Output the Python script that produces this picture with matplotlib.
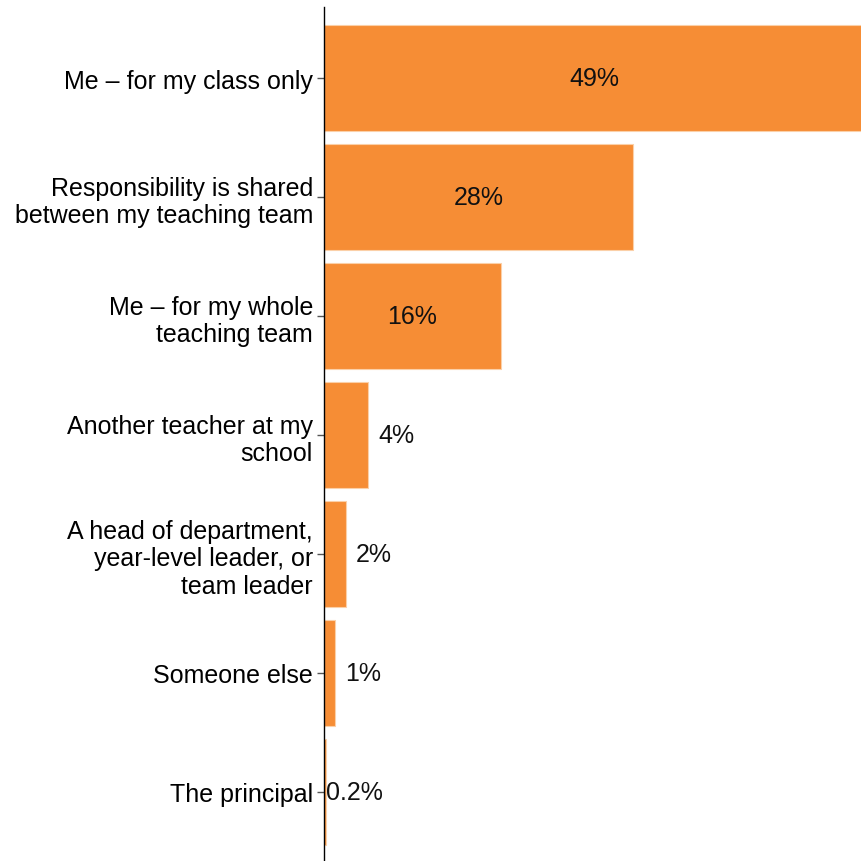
import matplotlib
matplotlib.use("Agg")
import matplotlib.pyplot as plt
from matplotlib.transforms import offset_copy

categories = [
    "Me – for my class only",
    "Responsibility is shared\nbetween my teaching team",
    "Me – for my whole\nteaching team",
    "Another teacher at my\nschool",
    "A head of department,\nyear-level leader, or\nteam leader",
    "Someone else",
    "The principal",
]
values = [49, 28, 16, 4, 2, 1, 0.2]
value_labels = ["49%", "28%", "16%", "4%", "2%", "1%", "0.2%"]

plt.rcParams["font.family"] = ["Liberation Sans", "DejaVu Sans"]

fig = plt.figure(figsize=(8.61, 8.62), dpi=100)
ax = fig.add_axes([324 / 861, 0.0, 1 - 324 / 861, 1 - 8 / 862])

bar_color = "#F68D35"
y = list(range(len(categories)))
ax.barh(y, values, height=0.89, color=bar_color, edgecolor="#FBD0A8", linewidth=0.8)

ax.set_xlim(0, 48.6)
ax.set_ylim(6.58, -0.597)

ax.set_yticks(y)
ax.set_yticklabels(categories, fontsize=18, ha="right", linespacing=1.2)
ax.tick_params(axis="y", length=5, width=1, color="#555555", pad=3)
ax.set_xticks([])

for side in ("top", "right", "bottom"):
    ax.spines[side].set_visible(False)
ax.spines["left"].set_color("black")
ax.spines["left"].set_linewidth(1)

for i, (v, lab) in enumerate(zip(values, value_labels)):
    if v >= 10:
        ax.text(v / 2, i, lab, ha="center", va="center", fontsize=18, color="#111111")
    else:
        pad = 7 if v >= 1 else 0
        tr = offset_copy(ax.transData, fig=fig, x=pad, y=0, units="points")
        ax.text(v, i, lab, ha="left", va="center", fontsize=18, color="#111111", transform=tr)

fig.savefig("out.png", dpi=100)
